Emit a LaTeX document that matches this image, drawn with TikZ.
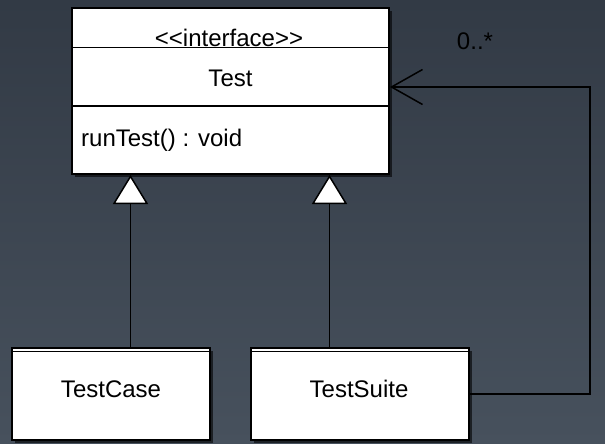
\documentclass[tikz,border=0pt]{standalone}
\usepackage{fontspec}
\setmainfont{Liberation Sans}
\usetikzlibrary{arrows.meta,shadows,calc}
\definecolor{bgtop}{RGB}{50,58,69}
\definecolor{bgbot}{RGB}{71,81,93}
\tikzset{
  umlbox/.style={draw=black, line width=2pt, fill=white, rectangle, inner sep=0pt,
    drop shadow={shadow xshift=3pt, shadow yshift=-3pt, opacity=0.6, fill=black}},
  lbl/.style={font=\fontsize{24}{28}\selectfont, inner sep=0pt, anchor=base},
  conn/.style={draw=black, line width=1.5pt},
  inh/.style={conn, -{Triangle[width=35pt,length=29pt,fill=white,line width=1.5pt]}},
  assoc/.style={conn, -{Straight Barb[length=31pt,width=35pt,line width=1.5pt]}}
}
\begin{document}
\begin{tikzpicture}[x=1pt,y=-1pt]
\shade[top color=bgtop, bottom color=bgbot] (0,0) rectangle (605,444);
\useasboundingbox (0,0) rectangle (605,444);
% boxes
\node[umlbox, minimum width=317pt, minimum height=166pt] (test) at (230.5,91) {};
\node[umlbox, minimum width=198pt, minimum height=92pt] (tc) at (111,394) {};
\node[umlbox, minimum width=218pt, minimum height=92pt] (ts) at (360,394) {};
% compartments
\draw[black, line width=1pt] ($(test.north west)+(0,41)$) -- ($(test.north east)+(0,41)$);
\draw[black, line width=2pt] ($(test.north west)+(0,99)$) -- ($(test.north east)+(0,99)$);
\draw[black, line width=1pt] ($(tc.north west)+(0,4)$) -- ($(tc.north east)+(0,4)$);
\draw[black, line width=1pt] ($(ts.north west)+(0,4)$) -- ($(ts.north east)+(0,4)$);
% texts
\node[lbl] (tstereo) at (229,46.5) {{<}{<}interface{>}{>}};
\node[lbl] (tname) at (230.5,87) {Test};
\node[lbl, anchor=base west] (top) at (81,146) {runTest() : void};
\node[lbl] (tcname) at (111,397) {TestCase};
\node[lbl] (tsname) at (359,397) {TestSuite};
% connectors
\path (test.south west) ++(59.5,0) coordinate (p1);
\path (test.south west) ++(258.5,0) coordinate (p2);
\draw[inh] (p1 |- tc.north) -- (p1);
\draw[inh] (p2 |- ts.north) -- (p2);
\path (ts.east) ++(120,0) coordinate (c1);
\path (test.north east) ++(0,80) coordinate (tgt);
\draw[assoc] (ts.east) -- (c1) |- (tgt);
\node[lbl, text=black] (mult) at (475,50) {0..*};
\end{tikzpicture}
\end{document}
